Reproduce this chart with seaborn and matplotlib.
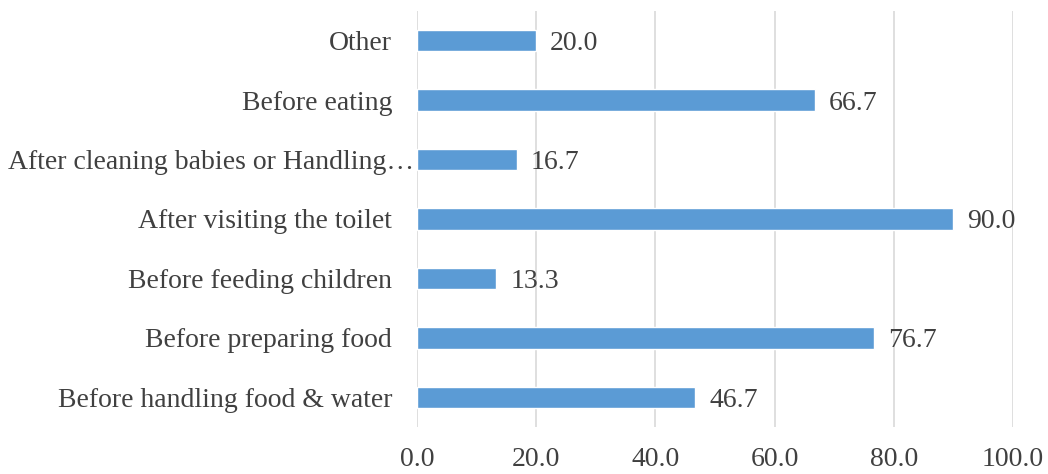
import matplotlib
matplotlib.use("Agg")
import matplotlib.pyplot as plt
import matplotlib.transforms as mtransforms
import pandas as pd
import seaborn as sns

categories = [
    "Other",
    "Before eating",
    "After cleaning babies or Handling…",
    "After visiting the toilet",
    "Before feeding children",
    "Before preparing food",
    "Before handling food & water",
]
values = [20.0, 66.7, 16.7, 90.0, 13.3, 76.7, 46.7]
xticks = [0, 20, 40, 60, 80, 100]

df = pd.DataFrame({"category": categories, "value": values})

sns.set_style("white")
plt.rcParams["font.family"] = ["Liberation Serif", "DejaVu Serif"]

fig = plt.figure(figsize=(10.48, 4.74), dpi=100)
ax = fig.add_axes([0.398, 0.099, 0.9666 - 0.398, 0.977 - 0.099])

sns.barplot(ax=ax, data=df, x="value", y="category", order=categories,
            orient="h", color="#5B9BD5", width=0.36, saturation=1)

labels = ax.bar_label(ax.containers[0], fmt="%.1f", padding=10, fontsize=20, color="#404040")
for t in labels:
    t.set_va("center_baseline")

ax.set_xlim(0, 100)
ax.set_ylim(6.5, -0.5)
ax.set_xticks(xticks)
ax.set_xticklabels([f"{t:.1f}" for t in xticks])
ax.xaxis.grid(True, color="#D9D9D9", linewidth=1.2)
ax.set_axisbelow(True)
ax.set_xlabel("")
ax.set_ylabel("")
for s in ax.spines.values():
    s.set_visible(False)
ax.tick_params(axis="x", length=0, pad=14, labelsize=20, labelcolor="#404040")
ax.tick_params(axis="y", length=0, pad=18, labelsize=20, labelcolor="#404040")

# the long (truncated) label sits closer to the axis, as in the original
long_lbl = ax.yaxis.get_major_ticks()[2].label1
shift = mtransforms.ScaledTranslation(22 / 100, 0, fig.dpi_scale_trans)
long_lbl.set_transform(long_lbl.get_transform() + shift)

fig.savefig("out.png", dpi=100)
